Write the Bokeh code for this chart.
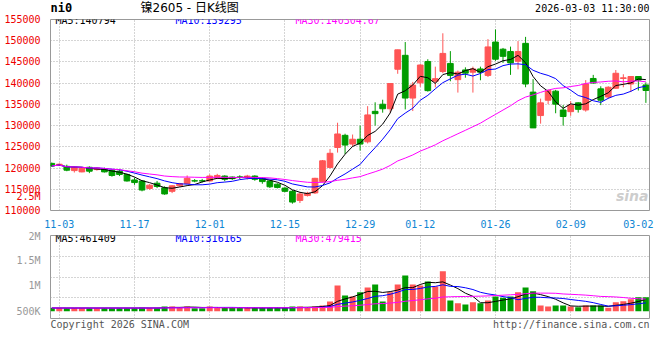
import pandas as pd
from bokeh.plotting import figure
from bokeh.layouts import column
from bokeh.models import Range1d, FixedTicker, LinearAxis, Label, ColumnDataSource
from bokeh.embed import file_html
from bokeh.resources import INLINE

# ---------------- data ----------------
dates = ["10-31",
         "11-03", "11-04", "11-05", "11-06", "11-07", "11-10", "11-11", "11-12", "11-13", "11-14",
         "11-17", "11-18", "11-19", "11-20", "11-21", "11-24", "11-25", "11-26", "11-27", "11-28",
         "12-01", "12-02", "12-03", "12-04", "12-05", "12-08", "12-09", "12-10", "12-11", "12-12",
         "12-15", "12-16", "12-17", "12-18", "12-19", "12-22", "12-23", "12-24", "12-25", "12-26",
         "12-29", "12-30", "12-31", "01-05", "01-06", "01-07", "01-08", "01-09",
         "01-12", "01-13", "01-14", "01-15", "01-16", "01-19", "01-20", "01-21", "01-22", "01-23",
         "01-26", "01-27", "01-28", "01-29", "01-30", "02-02", "02-03", "02-04", "02-05", "02-06",
         "02-09", "02-10", "02-11", "02-12", "02-13", "02-24", "02-25", "02-26", "02-27",
         "03-02", "03-03"]

opens = [121100, 120650, 120400, 119400, 119100, 120180, 119640, 119870, 119490, 119260,
         118490, 117200, 116960, 115200, 116430, 115360, 114520, 115820, 116350, 117000,
         117000, 116960, 117580, 118110, 117880, 117900, 117730, 118110, 117580, 116960,
         116200, 115280, 114520, 112380, 113520, 114140, 116810, 120150, 124850, 127710,
         125650, 126790, 126180, 133360, 135040, 133970, 143280, 146560, 136490, 140070,
         145110, 140450, 142740, 144650, 140830, 143120, 142590, 143350, 141830, 149690,
         148000, 147470, 145170, 149380, 137890, 132370, 135980, 138120, 133680, 133290,
         135360, 133680, 141110, 138660, 136740, 138810, 141100, 139800, 141570, 139580]

highs = [121300, 121100, 120800, 120300, 120100, 120400, 120200, 120100, 119640, 119640,
         118650, 117730, 117110, 116200, 116960, 115700, 115950, 116500, 118260, 117400,
         117450, 118480, 118640, 118300, 118000, 118300, 118400, 118300, 117800, 117100,
         116400, 115500, 114820, 114290, 114400, 117700, 121900, 124470, 130680, 128090,
         127900, 130000, 134580, 135490, 136100, 140000, 147900, 149690, 140300, 144500,
         145640, 143890, 151750, 147550, 142970, 143730, 143890, 143890, 150370, 152660,
         148300, 148610, 149920, 150910, 140950, 136360, 138500, 138430, 134830, 135750,
         135500, 140720, 141950, 139270, 139270, 143100, 142100, 141600, 141600, 140190]

lows = [120300, 120500, 119250, 118950, 119000, 118800, 119400, 118950, 117960, 118110,
        116800, 116050, 114520, 114900, 115280, 113700, 114100, 115600, 116200, 116650,
        116600, 116800, 117400, 116900, 117200, 117400, 117300, 117000, 116300, 115300,
        115200, 114300, 111610, 111770, 113300, 113900, 116600, 119900, 123640, 123290,
        125000, 124120, 125800, 130000, 133050, 133050, 142210, 133820, 133430, 139160,
        138010, 139000, 142360, 140450, 137780, 141290, 137780, 140680, 141450, 145260,
        144780, 141950, 143250, 139040, 129460, 130460, 135060, 132910, 130000, 132300,
        133060, 133290, 139900, 134830, 136360, 138660, 139040, 137890, 138270, 135360]

closes = [120500, 120900, 119500, 120150, 119870, 119260, 120020, 119100, 118260, 118490,
          116960, 116580, 114820, 115970, 115660, 113900, 115820, 116350, 117580, 116950,
          116950, 118110, 118260, 117350, 117500, 117850, 118110, 117350, 116810, 115590,
          115440, 114520, 111990, 113900, 114060, 117580, 121710, 123480, 128030, 125420,
          126790, 125650, 132520, 132820, 133970, 139920, 147850, 136490, 139540, 144270,
          138240, 141060, 147010, 141830, 142590, 142360, 143350, 142590, 148540, 145640,
          146320, 144780, 147470, 139800, 129460, 135360, 138270, 135060, 132140, 134830,
          133830, 139800, 140030, 135980, 139040, 142330, 141260, 141570, 140720, 138270]

volumes = [125000, 125000, 120000, 125000, 125000, 120000, 125000, 120000, 125000, 125000,
           125000, 120000, 130000, 125000, 125000, 182000, 182000, 130000, 182000, 117000,
           117000, 182000, 130000, 130000, 130000, 130000, 130000, 130000, 130000, 130000,
           130000, 130000, 182000, 182000, 143000, 182000, 221000, 377000, 1001000, 611000,
           572000, 741000, 923000, 1040000, 377000, 741000, 1040000, 1391000, 1040000, 1001000,
           1157000, 962000, 1560000, 416000, 312000, 260000, 351000, 312000, 416000, 572000,
           520000, 572000, 741000, 923000, 780000, 221000, 182000, 221000, 221000, 182000,
           156000, 221000, 221000, 221000, 130000, 351000, 390000, 468000, 546000, 546000]

tick_labels = ["11-03", "11-17", "12-01", "12-15", "12-29", "01-12", "01-26", "02-09", "03-02"]
price_ticks = [110000, 115000, 120000, 125000, 130000, 135000, 140000, 145000, 150000, 155000]
vol_tick_values = [500000, 1000000, 1500000, 2000000]
vol_tick_labels = ["500K", "1M", "1.5M", "2M"]
vol_top_label = "2.5M"

title_text = "镍2605 - 日K线图"
symbol_text = "ni0"
time_text = "2026-03-03 11:30:00"
price_ma_texts = ["MA5:140794", "MA10:139295", "MA30:140304.67"]
vol_ma_texts = ["MA5:461409", "MA10:316165", "MA30:479415"]
footer_left = "Copyright 2026 SINA.COM"
footer_right = "http://finance.sina.com.cn"

# ---------------- derived ----------------
N = len(closes)
xs = list(range(N))
RED, GREEN = "#ff5555", "#009c00"
colors = [RED if c >= o else GREEN for o, c in zip(opens, closes)]
src = ColumnDataSource(dict(
    x=xs, open=opens, high=highs, low=lows, close=closes, vol=volumes,
    top=[max(o, c) for o, c in zip(opens, closes)],
    bottom=[min(o, c) for o, c in zip(opens, closes)],
    color=colors))

cs = pd.Series(closes, dtype=float)
vs = pd.Series(volumes, dtype=float)
ma_colors = ["#000000", "#0000ff", "#ff00ff"]
ma_periods = [5, 10, 30]

tick_idx = [dates.index(d) for d in tick_labels]
grid_idx = tick_idx[:-1]

MONO = "DejaVu Sans Mono"
GRID_COLOR = "#aaaaaa"
BORDER = "#999999"
XLABEL_COLOR = "#0e86d4"
W = 660
FW = 599          # frame width shared by all stacked panels (frames are aligned)

x_range = Range1d(-0.17, N - 0.52)


def lab(fig, text, x, y, color="#000000", size="10px", font=MONO, align="left",
        baseline="middle", style="normal", alpha=1.0):
    fig.add_layout(Label(x=x, y=y, x_units="screen", y_units="screen", text=text,
                         text_color=color, text_font_size=size, text_font=font,
                         text_align=align, text_baseline=baseline,
                         text_font_style=style, text_alpha=alpha))


def strip(h):
    f = figure(width=W, height=h, output_backend="svg", toolbar_location=None,
               x_range=Range1d(0, 1), y_range=Range1d(0, 1),
               x_axis_location=None, y_axis_location=None,
               min_border_left=50, min_border_right=11, min_border_top=0, min_border_bottom=0,
               border_fill_color="white", background_fill_color="white")
    f.outline_line_color = None
    f.xgrid.visible = False
    f.ygrid.visible = False
    return f

# ---------------- header strip ----------------
HH = 14
head = strip(HH)
lab(head, symbol_text, 0, HH - 7.5, size="12px", style="bold")
lab(head, title_text, 90, HH - 7, size="12px", font="DejaVu Sans, Noto Sans CJK SC")
lab(head, time_text, FW, HH - 7.5, size="10px", align="right")

# ---------------- price panel ----------------
p = figure(width=W, height=216, output_backend="svg", toolbar_location=None,
           x_range=x_range, y_range=Range1d(price_ticks[0], price_ticks[-1]),
           min_border_left=50, min_border_right=11, min_border_top=5, min_border_bottom=16,
           background_fill_color="white", border_fill_color="white")
p.outline_line_color = BORDER
p.outline_line_width = 1

p.segment(x0="x", y0="low", x1="x", y1="high", color="color", line_width=1, source=src)
p.vbar(x="x", top="top", bottom="bottom", width=0.76, fill_color="color",
       line_color="color", line_width=1, source=src)
for n, col in zip(ma_periods, ma_colors):
    p.line(xs, cs.rolling(n, min_periods=1).mean().tolist(), line_color=col, line_width=1)

# the "2.5M" volume label of the reference overlaps the price axis area
VOL_LABEL_AT_PRICE = 113200
p.yaxis.ticker = FixedTicker(ticks=price_ticks + [VOL_LABEL_AT_PRICE])
ovr = {t: str(t) for t in price_ticks}
ovr[VOL_LABEL_AT_PRICE] = vol_top_label
p.yaxis.major_label_overrides = ovr
p.yaxis.major_label_text_color = "#ee0000"
p.yaxis.major_label_text_font = MONO
p.yaxis.major_label_text_font_size = "10px"
p.yaxis.axis_line_color = None
p.yaxis.major_tick_line_color = None
p.yaxis.minor_tick_line_color = None
p.yaxis.major_label_standoff = 4

p.xaxis.ticker = FixedTicker(ticks=tick_idx)
p.xaxis.major_label_overrides = {i: l for i, l in zip(tick_idx, tick_labels)}
p.xaxis.major_label_text_color = XLABEL_COLOR
p.xaxis.major_label_text_font = MONO
p.xaxis.major_label_text_font_size = "10px"
p.xaxis.axis_line_color = None
p.xaxis.major_tick_line_color = None
p.xaxis.minor_tick_line_color = None
p.xaxis.major_label_standoff = 3

p.xgrid.ticker = FixedTicker(ticks=grid_idx)
p.ygrid.ticker = FixedTicker(ticks=price_ticks)
for g in (p.xgrid, p.ygrid):
    g.grid_line_color = GRID_COLOR
    g.grid_line_dash = "1 2"
    g.grid_line_width = 1

FH = 195  # frame height of price panel (px)
for t, col, xx in zip(price_ma_texts, ma_colors, [5, 125, 245]):
    lab(p, t, xx, FH - 5, color=col)
lab(p, "sina", FW - 1, 15, color="#c4c4c4", size="14px", font="DejaVu Sans",
    style="bold italic", align="right", alpha=0.85)

# ---------------- volume panel ----------------
v = figure(width=W, height=89, output_backend="svg", toolbar_location=None,
           x_range=x_range, y_range=Range1d(-284700, 2952300),
           x_axis_location=None, y_axis_location=None,
           min_border_left=50, min_border_right=11, min_border_top=5, min_border_bottom=1,
           background_fill_color="white", border_fill_color="white")
v.outline_line_color = BORDER
v.outline_line_width = 1

v.vbar(x="x", top="vol", bottom=0, width=0.8, fill_color="color", line_color=None, source=src)
for n, col in zip(ma_periods, ma_colors):
    v.line(xs, vs.rolling(n, min_periods=1).mean().tolist(), line_color=col, line_width=1)

v.extra_y_ranges = {"lab": Range1d(351000, 2000000)}
vax = LinearAxis(y_range_name="lab", ticker=FixedTicker(ticks=vol_tick_values))
vax.major_label_overrides = {t: l for t, l in zip(vol_tick_values, vol_tick_labels)}
vax.major_label_text_color = "#999999"
vax.major_label_text_font = MONO
vax.major_label_text_font_size = "10px"
vax.axis_line_color = None
vax.major_tick_line_color = None
vax.minor_tick_line_color = None
vax.major_label_standoff = 4
v.add_layout(vax, "left")

ys, ye = v.y_range.start, v.y_range.end
v.xgrid.ticker = FixedTicker(ticks=grid_idx)
v.ygrid.ticker = FixedTicker(ticks=[ys + k * (ye - ys) / 4 for k in (1, 2, 3)])
for g in (v.xgrid, v.ygrid):
    g.grid_line_color = GRID_COLOR
    g.grid_line_dash = "1 2"
    g.grid_line_width = 1

VH = 83
for t, col, xx in zip(vol_ma_texts, ma_colors, [5, 125, 245]):
    lab(v, t, xx, VH - 3, color=col)

# ---------------- footer strip ----------------
FT = 41
foot = strip(FT)
lab(foot, footer_left, 0, FT - 5, color="#555555")
lab(foot, footer_right, FW, FT - 5, color="#555555", align="right")

layout = column(head, p, v, foot, spacing=0)
open("out.html", "w").write(file_html(layout, INLINE))
